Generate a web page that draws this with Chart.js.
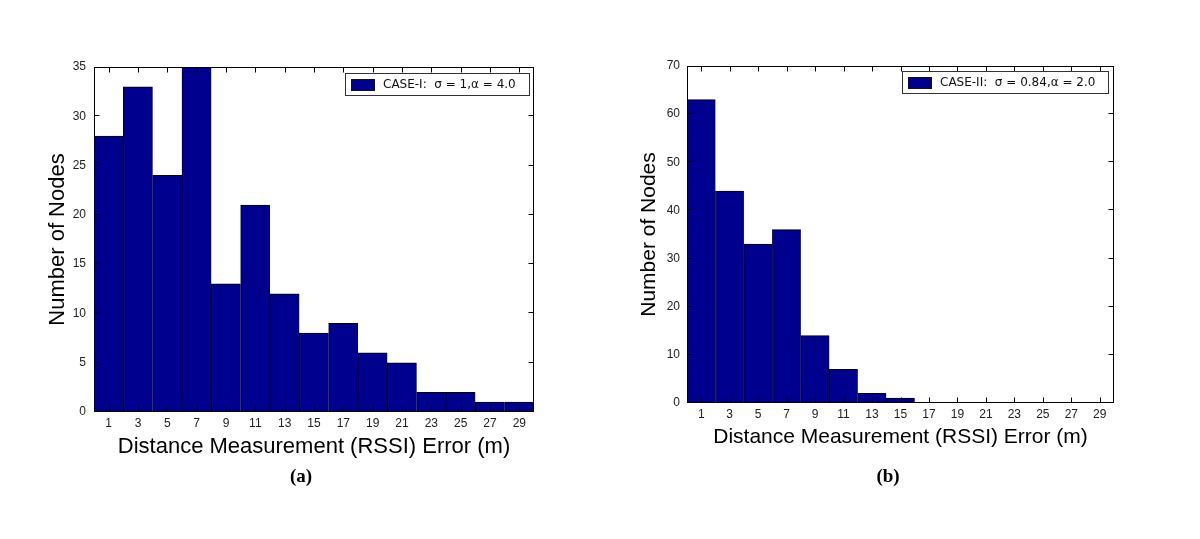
<!DOCTYPE html>
<html><head><meta charset="utf-8">
<script src="https://cdn.jsdelivr.net/npm/chart.js@4.4.1/dist/chart.umd.min.js"></script>
<style>
html,body{margin:0;padding:0;background:#fff;}
body{width:1200px;height:539px;position:relative;overflow:hidden;}
.wrap{position:absolute;top:0;width:600px;height:539px;}
.cap{position:absolute;font:bold 19px "Liberation Serif","Times New Roman",serif;color:#000;transform:translate(-50%,-50%);white-space:nowrap;}
</style></head><body>
<div class="wrap" style="left:0"><canvas id="c1" width="600" height="539"></canvas></div>
<div class="wrap" style="left:600px"><canvas id="c2" width="600" height="539"></canvas></div>
<div class="cap" style="left:301px;top:476px">(a)</div>
<div class="cap" style="left:888px;top:476px">(b)</div>
<script>
// ---- data ----
const binLabels = ['1','3','5','7','9','11','13','15','17','19','21','23','25','27','29'];
const caseICounts = [28,33,24,35,13,21,12,8,9,6,5,2,2,1,1];
const caseIICounts = [63,44,33,36,14,7,2,1,0,0,0,0,0,0,0];
const caseILabel = 'CASE-I:  \u03c3 = 1,\u03b1 = 4.0';
const caseIILabel = 'CASE-II:  \u03c3 = 0.84,\u03b1 = 2.0';
const yMaxA = 35, yStepA = 5;
const yMaxB = 70, yStepB = 10;
const xTitle = 'Distance Measurement (RSSI) Error (m)';
const yTitle = 'Number of Nodes';

const BAR_COLOR = '#00008F';
const TICK_FONT = {family:'"Liberation Sans", Arial, sans-serif', size:12};

const framePlugin = {
  id:'frame',
  afterDatasetsDraw(chart){
    const ctx = chart.ctx, a = chart.chartArea;
    const xs = chart.scales.x, ys = chart.scales.y;
    const L = Math.round(a.left)+0.5, R = Math.round(a.right)-0.5, T = Math.round(a.top)+0.5, B = Math.round(a.bottom)-0.5;
    const tl = 5;
    const clamp = (v,lo,hi)=>Math.max(lo,Math.min(hi,v));
    ctx.save();
    ctx.strokeStyle = '#000'; ctx.lineWidth = 1;
    ctx.beginPath();
    xs.ticks.forEach((t,i)=>{
      const px = clamp(Math.round(xs.getPixelForTick(i))+0.5, L, R);
      ctx.moveTo(px,B); ctx.lineTo(px,B-tl);
      ctx.moveTo(px,T); ctx.lineTo(px,T+tl);
    });
    ys.ticks.forEach((t,i)=>{
      const py = clamp(Math.round(ys.getPixelForTick(i))-0.5, T, B);
      ctx.moveTo(L,py); ctx.lineTo(L+tl,py);
      ctx.moveTo(R,py); ctx.lineTo(R-tl,py);
    });
    ctx.stroke();
    ctx.strokeRect(L,T,R-L,B-T);
    ctx.restore();
  }
};

const legendPlugin = {
  id:'boxLegend',
  afterDraw(chart, args, o){
    const ctx = chart.ctx, a = chart.chartArea, ds = chart.data.datasets[0];
    ctx.save();
    ctx.font = '12px "DejaVu Sans", sans-serif';
    const tw = ctx.measureText(ds.label).width;
    const padL = 6, sw = 24, swH = 12, gap = 8, padR = 13, h = 22;
    const w = Math.round(padL + sw + gap + tw + padR);
    const x = Math.round(a.right - o.dx - w), y = Math.round(a.top + o.dy);
    ctx.fillStyle = '#fff'; ctx.fillRect(x,y,w,h);
    ctx.strokeStyle = '#333'; ctx.lineWidth = 1;
    ctx.strokeRect(x+0.5,y+0.5,w,h);
    ctx.fillStyle = ds.backgroundColor;
    ctx.fillRect(x+padL, y+(h-swH)/2+1, sw, swH);
    ctx.strokeStyle = '#111';
    ctx.strokeRect(x+padL+0.5, y+(h-swH)/2+1.5, sw-1, swH-1);
    ctx.fillStyle = '#111'; ctx.textBaseline = 'middle'; ctx.textAlign = 'left';
    ctx.fillText(ds.label, x+padL+sw+gap, y+h/2+1);
    ctx.restore();
  }
};

function makeChart(id, counts, label, yMax, yStep, lay){
  const titleFont = {family:'"Liberation Sans", Arial, sans-serif', size:lay.tSize};
  return new Chart(document.getElementById(id), {
    type:'bar',
    data:{
      labels: binLabels,
      datasets:[{
        label: label,
        data: counts,
        backgroundColor: BAR_COLOR,
        borderColor: '#000',
        borderWidth: {top:1,left:1,right:0,bottom:0},
        borderSkipped: false,
        barPercentage: 1,
        categoryPercentage: 1
      }]
    },
    options:{
      responsive:false,
      animation:false,
      events:[],
      layout:{padding:lay.padding},
      plugins:{
        legend:{display:false},
        tooltip:{enabled:false},
        boxLegend:{dx:lay.ldx, dy:lay.ldy}
      },
      scales:{
        x:{
          offset:true,
          grid:{display:false, drawTicks:false},
          border:{display:false},
          ticks:{font:TICK_FONT, color:'#222', padding:lay.xPad, maxRotation:0, autoSkip:false},
          title:{display:true, text:xTitle, font:titleFont, color:'#000', padding:{top:0,bottom:0}},
          afterFit(s){ s.height = lay.xH; }
        },
        y:{
          min:0, max:yMax,
          grid:{display:false, drawTicks:false},
          border:{display:false},
          ticks:{stepSize:yStep, font:TICK_FONT, color:'#222', padding:lay.yPad},
          title:{display:true, text:yTitle, font:titleFont, color:'#000', padding:{top:lay.yTPad,bottom:0}},
          afterFit(s){ s.width = lay.yW; }
        }
      }
    },
    plugins:[framePlugin, legendPlugin]
  });
}

makeChart('c1', caseICounts, caseILabel, yMaxA, yStepA, {
  padding:{left:40, top:67, right:66, bottom:79},
  yW:54, xH:48, xPad:4, yPad:8, ldx:5, ldy:6, tSize:22, yTPad:5
});
makeChart('c2', caseIICounts, caseIILabel, yMaxB, yStepB, {
  padding:{left:32, top:66, right:86, bottom:89},
  yW:55, xH:47, xPad:4, yPad:7, ldx:6, ldy:5, tSize:21, yTPad:5
});
</script>
</body></html>
